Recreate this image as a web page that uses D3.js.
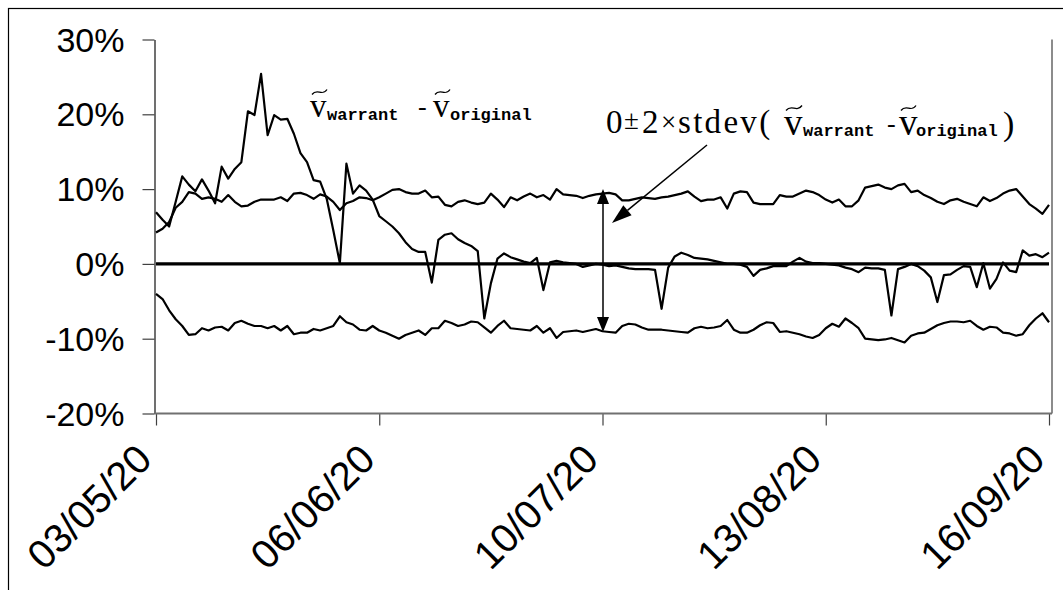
<!DOCTYPE html>
<html><head><meta charset="utf-8">
<script src="https://cdn.jsdelivr.net/npm/d3@7"></script>
<style>body{margin:0;background:#fff}</style>
</head><body>
<svg id="c" width="1063" height="590"></svg>
<script>
// ---------- data (values in %) ----------
const startDate = "03/05/20";
const diffSeries = [
 6.9,5.9,5.0,8.3,11.7,10.6,9.7,11.3,9.8,8.1,
 13.0,11.4,12.7,13.6,20.4,19.9,25.4,17.2,19.9,19.3,
 19.4,17.4,14.8,13.6,11.2,11.0,8.7,4.5,0.1,13.4,
 9.4,10.5,9.8,8.6,6.4,5.7,5.0,4.1,2.9,2.0,
 1.6,1.6,-2.5,3.2,3.9,4.1,3.3,2.8,2.4,1.7,
 -7.3,-2.6,0.7,1.4,0.9,0.6,0.3,0.1,0.8,-3.5,
 0.2,0.4,0.2,0.1,0.0,-0.4,-0.2,0.0,-0.1,-0.3,
 -0.2,-0.4,-0.6,-0.7,-0.7,-0.7,-0.8,-6.0,-0.5,1.0,
 1.5,1.2,0.8,0.7,0.6,0.4,0.2,0.0,0.0,-0.1,
 -0.4,-1.6,-0.8,-0.6,-0.3,-0.3,-0.3,0.3,0.8,0.3,
 0.1,0.1,0.0,-0.1,-0.2,-0.5,-0.7,-1.1,-0.5,-0.6,
 -0.6,-0.8,-6.9,-0.7,-0.4,0.0,-0.3,-0.9,-1.8,-5.1,
 -1.5,-1.4,-0.8,-0.3,-0.4,-3.1,0.1,-3.3,-2.0,0.2,
 -0.9,-1.1,1.8,1.1,1.3,0.9,1.5
];
const upperBand = [
 4.2,4.7,5.6,7.5,8.3,9.6,9.4,8.7,8.9,8.7,
 8.3,9.2,8.3,7.7,7.8,8.3,8.6,8.6,8.6,8.9,
 8.4,9.4,9.5,9.2,8.7,9.3,9.0,8.3,7.2,8.1,
 8.4,8.9,8.8,8.5,8.9,9.4,9.9,10.0,9.6,9.4,
 9.4,9.8,8.9,9.0,7.9,7.7,8.3,8.5,8.2,8.0,
 8.2,9.4,8.6,7.6,8.9,8.5,9.0,9.4,8.9,9.2,
 8.6,10.0,9.3,9.2,9.1,8.8,9.1,9.3,9.4,9.5,
 9.3,8.5,8.5,8.7,8.9,8.8,8.7,8.9,9.0,9.2,
 9.4,9.7,9.0,8.4,8.6,8.6,8.9,7.4,9.4,9.7,
 9.6,8.2,8.0,8.0,8.0,9.2,9.0,9.0,9.4,9.8,
 9.6,9.2,8.6,8.2,8.6,7.7,7.7,8.5,10.2,10.4,
 10.6,10.2,10.0,10.5,10.7,9.6,9.8,9.2,8.8,8.3,
 8.0,8.5,8.7,8.3,8.0,7.7,8.9,8.4,8.8,9.4,
 9.8,10.0,9.0,8.0,7.4,6.7,7.9
];
const lowerBand = [
 -4.0,-4.7,-6.2,-7.4,-8.3,-9.5,-9.4,-8.6,-8.9,-8.5,
 -8.4,-8.9,-7.9,-7.6,-8.0,-8.3,-8.3,-8.6,-8.3,-8.9,
 -8.3,-9.4,-9.2,-9.2,-8.7,-8.9,-8.6,-8.3,-7.0,-7.8,
 -8.1,-8.8,-8.9,-8.3,-8.9,-9.2,-9.6,-10.0,-9.5,-9.2,
 -8.9,-9.5,-8.6,-8.6,-7.6,-7.9,-8.3,-8.1,-7.7,-7.8,
 -8.5,-9.2,-8.3,-7.6,-8.6,-8.7,-8.8,-8.9,-8.3,-9.2,
 -8.6,-9.9,-9.1,-9.0,-8.9,-9.1,-8.9,-8.7,-9.0,-9.1,
 -9.2,-8.3,-8.0,-8.1,-8.5,-8.8,-8.8,-8.8,-8.9,-9.0,
 -9.1,-9.2,-8.6,-8.4,-8.6,-8.5,-8.3,-7.5,-8.8,-9.2,
 -9.2,-8.8,-8.2,-7.8,-7.9,-9.1,-9.0,-9.2,-9.4,-9.7,
 -9.9,-9.5,-8.6,-8.0,-8.4,-7.3,-7.9,-8.6,-10.0,-10.1,
 -10.2,-10.1,-9.9,-10.2,-10.5,-9.6,-9.3,-9.2,-8.7,-8.2,
 -7.9,-7.7,-7.7,-7.8,-7.6,-8.3,-8.8,-8.4,-8.5,-9.2,
 -9.3,-9.6,-9.4,-8.2,-7.3,-6.6,-7.8
];
const yTickValues = [-20, -10, 0, 10, 20, 30];
const xTickLabels = ["03/05/20", "06/06/20", "10/07/20", "13/08/20", "16/09/20"];
const arrowDate = "10/07/20";
const arrowRange = [10, -9.1];

// ---------- setup ----------
const parse = d3.utcParse("%d/%m/%y");
const t0 = parse(startDate);
const dates = diffSeries.map((_, i) => d3.utcDay.offset(t0, i));
const svg = d3.select("#c");
svg.append("rect").attr("width", 1063).attr("height", 590).attr("fill", "#fff");
// outer chart frame
svg.append("rect").attr("x", 8.5).attr("y", 8.5).attr("width", 1200).attr("height", 800)
  .attr("fill", "none").attr("stroke", "#000").attr("stroke-width", 1.2);

const x = d3.scaleUtc().domain([t0, parse(xTickLabels[xTickLabels.length - 1])]).range([156, 1049]);
const y = d3.scaleLinear().domain([-20, 30]).range([413.5, 39.5]);
const x0 = x.range()[0] - 1.5, x1 = x.range()[1] + 3;

// plot right border
svg.append("line").attr("x1", x1).attr("x2", x1).attr("y1", y(30)).attr("y2", y(-20))
  .attr("stroke", "#8c8c8c").attr("stroke-width", 2);

// y axis
const gy = svg.append("g").attr("transform", `translate(${x0},0)`)
  .call(d3.axisLeft(y).tickValues(yTickValues).tickSize(12).tickSizeOuter(0).tickPadding(18)
    .tickFormat(d => d + "%"));
gy.select(".domain").attr("stroke", "#707070").attr("stroke-width", 2);
gy.selectAll(".tick line").attr("stroke", "#404040").attr("stroke-width", 1.2);
gy.selectAll(".tick text").attr("font-family", "'Liberation Sans', Arial, sans-serif")
  .attr("font-size", 34).attr("fill", "#000").attr("dy", "0.34em");

// x axis
const gx = svg.append("g").attr("transform", `translate(0,${y(-20)})`)
  .call(d3.axisBottom(x).tickValues(xTickLabels.map(parse)).tickSize(12).tickSizeOuter(0)
    .tickFormat(""));
gx.select(".domain").remove();
gx.append("line").attr("x1", x0).attr("x2", x1).attr("stroke", "#707070").attr("stroke-width", 2);
gx.selectAll(".tick line").attr("stroke", "#404040").attr("stroke-width", 1.2);
svg.append("g").selectAll("text").data(xTickLabels).join("text")
  .attr("transform", d => `translate(${x(parse(d)) - 2},${y(-20) + 48}) rotate(-45)`)
  .attr("text-anchor", "end")
  .attr("font-family", "'Liberation Sans', Arial, sans-serif").attr("font-size", 40)
  .text(d => d);

// series
const line = d3.line().x((d, i) => x(dates[i])).y(d => y(d));
svg.append("line").attr("x1", x(dates[0])).attr("x2", x(dates[dates.length - 1]))
  .attr("y1", y(0)).attr("y2", y(0)).attr("stroke", "#000").attr("stroke-width", 3.2);
[upperBand, lowerBand, diffSeries].forEach(s => {
  svg.append("path").datum(s).attr("d", line).attr("fill", "none")
    .attr("stroke", "#000").attr("stroke-width", 2.2).attr("stroke-linejoin", "round");
});

// ---------- annotations ----------
const serif = "'Liberation Serif', 'Times New Roman', serif";
const mono = "'Liberation Mono', 'Courier New', monospace";
function tilde(x0, w, ty) {
  svg.append("path")
    .attr("d", `M${x0},${ty + 2.5} C${x0 + 0.35 * w},${ty - 4.5} ${x0 + 0.65 * w},${ty + 5} ${x0 + w},${ty - 2.5}`)
    .attr("fill", "none").attr("stroke", "#000").attr("stroke-width", 1.3);
}
function txt(s, xx, yy, fam, size, weight) {
  return svg.append("text").attr("x", xx).attr("y", yy).attr("font-family", fam)
    .attr("font-size", size).attr("font-weight", weight || "normal").attr("fill", "#000").text(s);
}
// label 1
tilde(312, 15, 92);
txt("v", 310, 117, serif, 33);
txt("warrant", 327, 120, mono, 17, "bold");
txt("-", 418, 115, serif, 26);
tilde(435, 15, 92);
txt("v", 433, 117, serif, 33);
txt("original", 450, 120, mono, 17, "bold");

// label 2
txt("0", 606, 133, serif, 33);
txt("±", 624, 129, serif, 27);
txt("2", 642, 133, serif, 33);
txt("×", 661, 131, serif, 27);
txt("stdev(", 678, 133, serif, 33).attr("letter-spacing", 2.3);
tilde(786, 16, 108);
txt("v", 784, 135, serif, 37);
txt("warrant", 803, 136, mono, 17, "bold");
txt("-", 887, 132, serif, 26);
tilde(901, 15, 108);
txt("v", 899, 135, serif, 37);
txt("original", 916, 136, mono, 17, "bold");
txt(")", 1003, 135, serif, 34);

// vertical double arrow at arrowDate
const ax = x(parse(arrowDate)) + 0.5;
const ya = y(arrowRange[0]), yb = y(arrowRange[1]);
svg.append("line").attr("x1", ax).attr("x2", ax).attr("y1", ya + 12).attr("y2", yb - 12)
  .attr("stroke", "#000").attr("stroke-width", 1.5);
svg.append("path").attr("d", `M${ax},${ya} L${ax - 6},${ya + 15} L${ax + 6},${ya + 15} Z`).attr("fill", "#000");
svg.append("path").attr("d", `M${ax},${yb} L${ax - 6},${yb - 15} L${ax + 6},${yb - 15} Z`).attr("fill", "#000");

// diagonal pointer arrow
const p0 = [707, 145], tip = [612, 223];
const dx = tip[0] - p0[0], dy = tip[1] - p0[1], len = Math.hypot(dx, dy);
const ux = dx / len, uy = dy / len, hl = 20, hw = 6.5;
const bx = tip[0] - ux * hl, by = tip[1] - uy * hl;
svg.append("line").attr("x1", p0[0]).attr("y1", p0[1]).attr("x2", bx).attr("y2", by)
  .attr("stroke", "#000").attr("stroke-width", 1.5);
svg.append("path").attr("d", `M${tip[0]},${tip[1]} L${bx - uy * hw},${by + ux * hw} L${bx + uy * hw},${by - ux * hw} Z`)
  .attr("fill", "#000");
</script>
</body></html>
